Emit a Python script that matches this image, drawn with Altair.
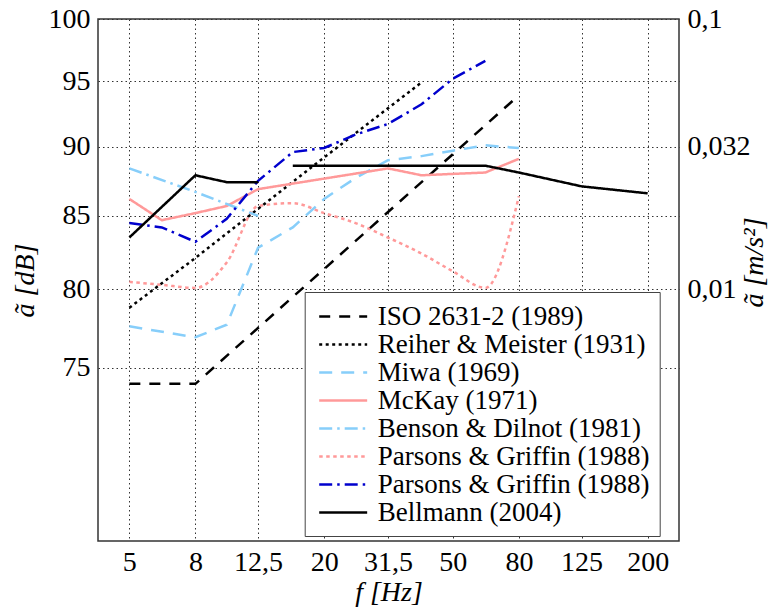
import altair as alt
import pandas as pd

# ---------------- data ----------------
series_names = [
    "ISO 2631-2 (1989)",
    "Reiher & Meister (1931)",
    "Miwa (1969)",
    "McKay (1971)",
    "Benson & Dilnot (1981)",
    "Parsons & Griffin (1988)",
    "Parsons & Griffin (1988) ",
    "Bellmann (2004)",
]

iso_f = [5, 8, 80]
iso_db = [74.0, 74.0, 93.9]

reiher_f = [5, 8, 12.5, 20, 31.5, 40]
reiher_db = [78.8, 82.1, 85.5, 89.2, 92.9, 94.9]

miwa_f = [5, 8, 10, 12.5, 16, 20, 25, 31.5, 40, 50, 63, 80]
miwa_db = [77.6, 76.9, 77.7, 82.8, 84.2, 86.2, 87.7, 89.0, 89.3, 89.7, 90.1, 89.9]

mckay_f = [5, 6.3, 8, 10, 12.5, 31.5, 40, 50, 63, 80]
mckay_db = [86.2, 84.7, 85.2, 85.7, 86.9, 88.4, 87.9, 88.0, 88.1, 89.1]

benson_f = [5, 8, 12.5]
benson_db = [88.4, 86.7, 85.0]

pg_pink_f = [5, 6.3, 8, 10, 12.5, 16, 20, 25, 31.5, 40, 50, 63, 80]
pg_pink_db = [80.5, 80.3, 80.1, 81.8, 85.7, 85.9, 85.2, 84.5, 83.5, 82.4, 81.2, 80.1, 86.4]

pg_blue_f = [5, 6.3, 8, 10, 12.5, 16, 20, 25, 31.5, 40, 50, 63]
pg_blue_db = [84.5, 84.2, 83.2, 84.8, 87.5, 89.6, 89.9, 90.9, 91.7, 93.2, 95.2, 96.6]

bellmann_a_f = [5, 8, 10, 12.5]
bellmann_a_db = [83.5, 87.9, 87.4, 87.4]
bellmann_b_f = [16, 63, 80, 125, 200]
bellmann_b_db = [88.6, 88.6, 88.1, 87.1, 86.6]

x_ticks = [5, 8, 12.5, 20, 31.5, 50, 80, 125, 200]
y_ticks = [75, 80, 85, 90, 95, 100]
right_tick_values = [80, 90, 100]
right_tick_labels = ["0,01", "0,032", "0,1"]

# ---------------- styles ----------------
series_colors = ["#000000", "#000000", "#87CEFA", "#FF9999",
                 "#87CEFA", "#FF9999", "#0000CD", "#000000"]
series_dashes = [[11, 9], [3, 3.5], [13, 9], [1, 0],
                 [13, 5, 2.5, 5], [3.5, 3.5], [13, 5, 2.5, 5], [1, 0]]

# ---------------- table ----------------
parts = [
    (series_names[0], "iso", iso_f, iso_db),
    (series_names[1], "reiher", reiher_f, reiher_db),
    (series_names[2], "miwa", miwa_f, miwa_db),
    (series_names[3], "mckay", mckay_f, mckay_db),
    (series_names[4], "benson", benson_f, benson_db),
    (series_names[5], "pgpink", pg_pink_f, pg_pink_db),
    (series_names[6], "pgblue", pg_blue_f, pg_blue_db),
    (series_names[7], "bella", bellmann_a_f, bellmann_a_db),
    (series_names[7], "bellb", bellmann_b_f, bellmann_b_db),
]
rows = []
for name, seg, fs, dbs in parts:
    for f, d in zip(fs, dbs):
        rows.append({"series": name, "seg": seg, "f": f, "db": d})
df = pd.DataFrame(rows)

FONT = "Liberation Serif"

xscale = alt.Scale(type="log", domain=[4, 250], nice=False)
yscale = alt.Scale(type="log", domain=[65, 100], nice=False, zero=False)

color = alt.Color(
    "series:N",
    scale=alt.Scale(domain=series_names, range=series_colors),
    legend=alt.Legend(title=None),
)
dash = alt.StrokeDash(
    "series:N",
    scale=alt.Scale(domain=series_names, range=series_dashes),
    legend=alt.Legend(title=None),
)

xenc = alt.X(
    "f:Q", scale=xscale,
    axis=alt.Axis(
        values=x_ticks,
        labelExpr="replace(toString(datum.value), '.', ',')",
        title="f [Hz]", titleFontStyle="italic",
        titleX=290.5, titleY=51, titleBaseline="middle", titleAlign="center",
        labelPadding=7,
    ),
)
yenc = alt.Y(
    "db:Q", scale=yscale,
    axis=alt.Axis(
        values=y_ticks, title="ã [dB]", titleFontStyle="italic",
        titleX=-73, titleY=261, titleAngle=270, titleBaseline="middle",
        titleAlign="center", labelPadding=8,
    ),
)

base = alt.Chart(df).encode(
    x=xenc, y=yenc, color=color, strokeDash=dash, detail="seg:N",
    order=alt.Order("f:Q"),
)

smooth = base.transform_filter(
    alt.datum.seg == "pgpink"
).mark_line(strokeWidth=2.5, interpolate="monotone")

straight = base.transform_filter(
    alt.datum.seg != "pgpink"
).mark_line(strokeWidth=2.5)

lines = alt.layer(smooth, straight)

label_expr = " : ".join(
    f"datum.value == {v} ? '{l}'" for v, l in zip(right_tick_values[::-1], right_tick_labels[::-1])
) + " : ''"

right_df = pd.DataFrame({"db": right_tick_values})
right = alt.Chart(right_df).mark_rule(opacity=0).encode(
    y=alt.Y(
        "db:Q", scale=yscale,
        axis=alt.Axis(
            orient="right", values=right_tick_values, labelExpr=label_expr,
            grid=False, title="ã [m/s²]", titleFontStyle="italic",
            titleX=75, titleY=243, titleAngle=270, titleBaseline="middle",
            titleAlign="center", labelPadding=8,
        ),
    )
)

chart = (
    alt.layer(lines, right)
    .resolve_axis(y="independent")
    .properties(
        width=581, height=522,
        autosize=alt.AutoSizeParams(type="none"),
        padding={"left": 90, "top": 11, "right": 90, "bottom": 67},
    )
    .configure_view(stroke="#333333", strokeWidth=1.5)
    .configure_axis(
        labelFont=FONT, labelFontSize=28, labelColor="#000000",
        titleFont=FONT, titleFontSize=28, titleColor="#000000", titleFontWeight="normal",
        ticks=False, domain=False,
        grid=True, gridColor="#333333", gridDash=[1.5, 3], gridWidth=1, gridOpacity=1,
    )
    .configure_legend(
        orient="none", legendX=206.7, legendY=273,
        labelFont=FONT, labelFontSize=27, labelColor="#000000", labelLimit=0,
        symbolType="M-1,0H2.69", symbolSize=676, symbolStrokeWidth=2.5,
        labelOffset=31, rowPadding=0, padding=10, symbolOffset=3,
        strokeColor="#444444", fillColor="#ffffff", cornerRadius=0,
    )
)

chart.save("out.html", embed_options={"renderer": "svg", "actions": False})
